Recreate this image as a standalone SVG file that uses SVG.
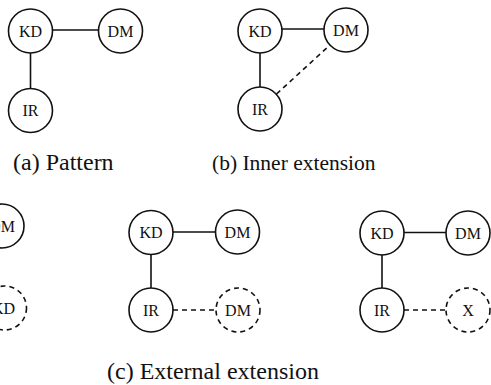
<svg xmlns="http://www.w3.org/2000/svg" width="491" height="385" viewBox="0 0 491 385">
<style>
.n{fill:#fff;stroke:#111;stroke-width:1.6}
.d{fill:#fff;stroke:#111;stroke-width:1.6;stroke-dasharray:5 4}
.t{font-family:"Liberation Serif","Times New Roman",serif;font-size:16px;fill:#111;text-anchor:middle}
.c{stroke:#111;stroke-width:1.6;fill:none}
.cd{stroke:#111;stroke-width:1.6;fill:none;stroke-dasharray:5 4}
.cap{font-family:"Liberation Serif","Times New Roman",serif;font-size:24px;fill:#111}
</style>
<rect width="491" height="385" fill="#fff"/>
<g id="connectors">
<line class="c" x1="52.5" y1="30" x2="98.5" y2="30"/>
<line class="c" x1="30.5" y1="53" x2="30.5" y2="88.5"/>
<line class="c" x1="282" y1="29" x2="324" y2="29"/>
<line class="c" x1="260" y1="53" x2="260" y2="87"/>
<line class="cd" x1="276.5" y1="94" x2="330" y2="45"/>
<line class="c" x1="173" y1="232" x2="215.5" y2="232"/>
<line class="c" x1="151" y1="254.5" x2="151" y2="288"/>
<line class="cd" x1="173" y1="310" x2="216" y2="310"/>
<line class="c" x1="404" y1="232.5" x2="446" y2="232.5"/>
<line class="c" x1="382" y1="255" x2="382" y2="288"/>
<line class="cd" x1="404" y1="310" x2="446" y2="310"/>
</g>
<g id="a-KD"><circle class="n" cx="30.5" cy="31" r="22"/><text class="t" x="30.5" y="36.5">KD</text></g>
<g id="a-DM"><circle class="n" cx="120.5" cy="31" r="22"/><text class="t" x="120.5" y="36.5">DM</text></g>
<g id="a-IR"><circle class="n" cx="30.5" cy="110.5" r="22"/><text class="t" x="30.5" y="116">IR</text></g>
<g id="b-KD"><circle class="n" cx="260" cy="31" r="22"/><text class="t" x="260" y="36.5">KD</text></g>
<g id="b-DM"><circle class="n" cx="346" cy="30" r="22"/><text class="t" x="346" y="35.5">DM</text></g>
<g id="b-IR"><circle class="n" cx="260" cy="109" r="22"/><text class="t" x="260" y="114.5">IR</text></g>
<g id="c0-DM"><circle class="n" cx="2" cy="226" r="22"/><text class="t" x="2" y="231.5">DM</text></g>
<g id="c0-KD"><circle class="d" cx="4.5" cy="308" r="22"/><text class="t" x="3.5" y="313.5">KD</text></g>
<g id="c1-KD"><circle class="n" cx="151" cy="232.5" r="22"/><text class="t" x="151" y="238">KD</text></g>
<g id="c1-DM"><circle class="n" cx="237.5" cy="232" r="22"/><text class="t" x="237.5" y="237.5">DM</text></g>
<g id="c1-IR"><circle class="n" cx="151" cy="310" r="22"/><text class="t" x="151" y="315.5">IR</text></g>
<g id="c1-DM2"><circle class="d" cx="238" cy="310" r="22"/><text class="t" x="238" y="315.5">DM</text></g>
<g id="c2-KD"><circle class="n" cx="382" cy="233" r="22"/><text class="t" x="382" y="238.5">KD</text></g>
<g id="c2-DM"><circle class="n" cx="468" cy="233" r="22"/><text class="t" x="468" y="238.5">DM</text></g>
<g id="c2-IR"><circle class="n" cx="382" cy="310" r="22"/><text class="t" x="382" y="315.5">IR</text></g>
<g id="c2-X"><circle class="d" cx="468" cy="310" r="22"/><text class="t" x="468" y="315.5">X</text></g>
<g id="captions">
<text class="cap" x="13" y="170">(a) Pattern</text>
<text class="cap" x="212" y="170" style="font-size:21.5px">(b) Inner extension</text>
<text class="cap" x="107" y="379">(c) External extension</text>
</g>
</svg>
